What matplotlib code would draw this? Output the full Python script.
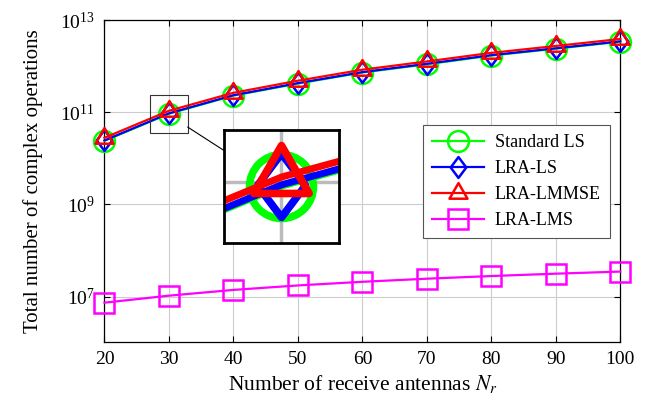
import numpy as np
import matplotlib
matplotlib.use("Agg")
import matplotlib.pyplot as plt
from matplotlib.path import Path
from matplotlib.patches import Rectangle, ConnectionPatch

plt.rcParams['font.family'] = ['Liberation Serif', 'DejaVu Serif']
plt.rcParams['mathtext.fontset'] = 'stix'

# data
nr = [20, 30, 40, 50, 60, 70, 80, 90, 100]
standard_ls = [2.4e10, 9.3e10, 2.3e11, 4.2e11, 7.3e11, 1.1e12, 1.7e12, 2.4e12, 3.4e12]
lra_ls = [2.45e10, 9.5e10, 2.35e11, 4.3e11, 7.45e11, 1.13e12, 1.74e12, 2.45e12, 3.47e12]
lra_lmmse = [2.8e10, 1.08e11, 2.65e11, 4.85e11, 8.4e11, 1.27e12, 1.95e12, 2.75e12, 3.9e12]
lra_lms = [7.4e6, 1.05e7, 1.4e7, 1.75e7, 2.1e7, 2.45e7, 2.8e7, 3.15e7, 3.5e7]
labels = ["Standard LS", "LRA-LS", "LRA-LMMSE", "LRA-LMS"]
colors = ["#00ff00", "#0000ff", "#ff0000", "#ff00ff"]
yticks = [1e7, 1e9, 1e11, 1e13]

# pgfplots-like marks (centred on the data point)
tri = Path([(0, 1), (-0.866, -0.5), (0.866, -0.5), (0, 1)], closed=True)
dia = Path([(0, 1), (0.75, 0), (0, -1), (-0.75, 0), (0, 1)], closed=True)
markers = ["o", dia, tri, "s"]
series = [standard_ls, lra_ls, lra_lmmse, lra_lms]

fig = plt.figure(figsize=(6.53, 4.03), dpi=100)
ax = fig.add_axes([0.160, 0.152, 0.790, 0.798])

for y, lab, c, m in zip(series, labels, colors, markers):
    ms = 14 if m == "s" else 15
    ax.plot(nr, y, color=c, lw=1.6, marker=m, ms=ms, mew=1.8,
            mfc="none", mec=c, label=lab, clip_on=False, zorder=3)

ax.set_yscale("log")
ax.set_xlim(20, 100)
ax.set_ylim(1.05e6, 1e13)
ax.set_xticks(nr)
ax.set_yticks(yticks)
ax.minorticks_off()
ax.grid(True, color="#cccccc", lw=0.8)
ax.tick_params(direction="in", top=True, right=True, length=4, labelsize=14, pad=7)
for s in ax.spines.values():
    s.set_linewidth(0.9)
ax.set_xlabel("Number of receive antennas $N_r$", fontsize=15.5, labelpad=3)
ax.set_ylabel("Total number of complex operations", fontsize=15, labelpad=12)

leg = ax.legend(loc="upper right", bbox_to_anchor=(0.98, 0.674), fontsize=13,
                fancybox=False, edgecolor="#555555", framealpha=1,
                handlelength=2.9, handletextpad=0.6, borderpad=0.5,
                labelspacing=0.5, borderaxespad=0)
leg.get_frame().set_linewidth(0.8)

# zoom box around Nr = 30
x0, x1 = 27.1, 32.9
y0, y1 = 10 ** 10.56, 10 ** 11.37
ax.add_patch(Rectangle((x0, y0), x1 - x0, y1 - y0, fill=False, ec="#333333",
                       lw=0.8, zorder=5))

ins = fig.add_axes([0.343, 0.397, 0.176, 0.280])
for y, c, m in zip(series[:3], colors[:3], markers[:3]):
    ins.plot(nr, y, color=c, lw=5, marker=m, ms=46, mew=5.5, mfc="none", mec=c)
ins.set_yscale("log")
ins.set_xlim(x0, x1)
ins.set_ylim(y0, y1)
ins.set_xticks([30])
ins.set_yticks([1e11])
ins.minorticks_off()
ins.tick_params(length=0, labelbottom=False, labelleft=False)
ins.grid(True, color="#bbbbbb", lw=2.5)
for s in ins.spines.values():
    s.set_linewidth(2)

con = ConnectionPatch(xyA=(x1, 10 ** 10.68), coordsA=ax.transData,
                      xyB=(0, 0.82), coordsB=ins.transAxes, color="black", lw=0.8)
fig.add_artist(con)

fig.savefig("out.png", dpi=100)
